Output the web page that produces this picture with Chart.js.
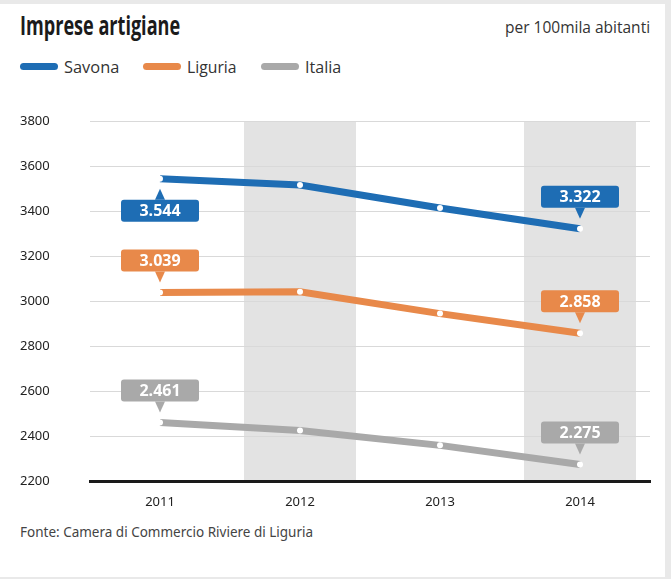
<!DOCTYPE html>
<html>
<head>
<meta charset="utf-8">
<title>Imprese artigiane</title>
<script src="https://cdn.jsdelivr.net/npm/chart.js"></script>
<style>
    body { margin: 0; background: #e9e9e9; }
    #wrap { position: relative; width: 671px; height: 579px; overflow: hidden; background: #e9e9e9; }
    #card { position: absolute; left: 0; top: 4px; width: 665px; height: 573px; background: #fff; }
    h1 { position: absolute; left: 20px; top: 2px; margin: 0; white-space: nowrap; transform-origin: left top; font: bold 27px "Open Sans", sans-serif; color: #1b1b1b; }
    .sub { position: absolute; left: 505px; top: 11px; white-space: nowrap; transform-origin: left top; font: 17px "Open Sans", sans-serif; color: #333; }
    #legend { position: absolute; left: 20px; top: 51px; display: flex; font: 17px "Open Sans", sans-serif; color: #333; }
    #legend span.item { display: flex; align-items: center; margin-right: 24px; }
    #legend span.swatch { display: inline-block; width: 38px; height: 7px; border-radius: 4px; margin-right: 6px; }
    #legend span.txt { display: inline-block; transform-origin: left center; }
    .src { position: absolute; left: 20px; top: 519px; font: 13.5px "Noto Sans", sans-serif; color: #444; }
    #chart-box { position: absolute; left: 0; top: 0; width: 671px; height: 579px; }
</style>
</head>
<body>
<div id="wrap">
    <div id="card">
        <h1 id="title">Imprese artigiane</h1>
        <div class="sub" id="sub">per 100mila abitanti</div>
        <div id="legend"></div>
        <div class="src">Fonte: Camera di Commercio Riviere di Liguria</div>
    </div>
    <div id="chart-box"><canvas id="artigianeChart"></canvas></div>
</div>
<script>
// Data
const years = ["2011", "2012", "2013", "2014"]
const savona = [3544, 3516, 3414, 3322]
const liguria = [3039, 3042, 2945, 2858]
const italia = [2461, 2426, 2360, 2275]
const shadedYears = ["2012", "2014"]

const colors = { savona: "#1e6db4", liguria: "#e8894a", italia: "#a9a9a9" }

// 3544 -> "3.544"
function fmt(v) {
    const s = String(Math.round(v))
    return s.length > 3 ? s.slice(0, -3) + "." + s.slice(-3) : s
}

// squeeze a text element to a given width (the original uses a condensed face)
function fitWidth(el, w) {
    el.style.transform = `scaleX(${w / el.offsetWidth})`
}

// gray columns behind some years
const bandsPlugin = {
    id: "bands",
    beforeDraw(chart) {
        const { ctx, chartArea, scales } = chart
        const x = scales.x
        const step = x.getPixelForValue(1) - x.getPixelForValue(0)
        ctx.save()
        ctx.fillStyle = "#e3e3e3"
        shadedYears.forEach((yr) => {
            const cx = x.getPixelForValue(years.indexOf(yr))
            ctx.fillRect(cx - step * 0.4, chartArea.top, step * 0.8, chartArea.bottom - chartArea.top)
        })
        ctx.restore()
    },
}

// value boxes on first and last point
const calloutPlugin = {
    id: "callouts",
    afterDatasetsDraw(chart, args, opts) {
        const { ctx } = chart
        ctx.save()
        ctx.font = "bold 16px 'Open Sans', sans-serif"
        ctx.textAlign = "center"
        ctx.textBaseline = "middle"
        chart.data.datasets.forEach((ds, i) => {
            const meta = chart.getDatasetMeta(i)
            const sides = opts.sides[i]
            ;[0, ds.data.length - 1].forEach((idx, k) => {
                const pt = meta.data[idx]
                const below = sides[k] === "below"
                const w = 78, h = 22
                const boxTop = below ? pt.y + 21 : pt.y - 21 - h
                const tipY = below ? pt.y + 10 : pt.y - 10
                const baseY = below ? boxTop : boxTop + h
                ctx.fillStyle = ds.borderColor
                ctx.beginPath()
                ctx.roundRect(pt.x - w / 2, boxTop, w, h, 3)
                ctx.fill()
                ctx.beginPath()
                ctx.moveTo(pt.x - 5, baseY)
                ctx.lineTo(pt.x, tipY)
                ctx.lineTo(pt.x + 5, baseY)
                ctx.closePath()
                ctx.fill()
                ctx.fillStyle = "#fff"
                ctx.fillText(fmt(ds.data[idx]), pt.x, boxTop + h / 2 + 1)
            })
        })
        ctx.restore()
    },
}

function makeSeries(label, data, color) {
    return {
        label: label,
        data: data,
        borderColor: color,
        backgroundColor: color,
        borderWidth: 7,
        tension: 0,
        pointRadius: 3,
        pointBorderWidth: 0,
        pointBackgroundColor: "#fff",
        pointHoverRadius: 3,
    }
}

const chart = new Chart(document.getElementById("artigianeChart"), {
    type: "line",
    data: {
        labels: years,
        datasets: [
            makeSeries("Savona", savona, colors.savona),
            makeSeries("Liguria", liguria, colors.liguria),
            makeSeries("Italia", italia, colors.italia),
        ],
    },
    options: {
        responsive: true,
        maintainAspectRatio: false,
        animation: false,
        layout: { padding: { left: 20, right: 21, top: 121, bottom: 56 } },
        plugins: {
            legend: { display: false },
            tooltip: { enabled: false },
            callouts: { sides: [["below", "above"], ["above", "above"], ["above", "above"]] },
        },
        scales: {
            x: {
                offset: true,
                grid: { display: false, drawTicks: false },
                border: { display: true, color: "#1a1a1a", width: 3 },
                ticks: { padding: 13, color: "#222", font: { family: "'Noto Sans', sans-serif", size: 13 } },
            },
            y: {
                min: 2200,
                max: 3800,
                ticks: {
                    stepSize: 200,
                    crossAlign: "far",
                    color: "#222",
                    font: { family: "'Noto Sans', sans-serif", size: 13 },
                    callback: (v) => String(v),
                },
                grid: { color: "#d9d9d9", drawTicks: false },
                border: { display: false },
                afterFit(scale) {
                    scale.width = 70
                },
            },
        },
    },
    plugins: [bandsPlugin, calloutPlugin],
})

// HTML legend from the datasets
const legendEl = document.getElementById("legend")
const legendTextWidths = [55, 50, 36]
chart.data.datasets.forEach((ds, i) => {
    const item = document.createElement("span")
    item.className = "item"
    item.innerHTML = `<span class="swatch" style="background:${ds.borderColor}"></span><span class="txt">${ds.label}</span>`
    legendEl.appendChild(item)
    const txt = item.querySelector(".txt")
    const natural = txt.offsetWidth
    fitWidth(txt, legendTextWidths[i])
    txt.style.marginRight = (legendTextWidths[i] - natural) + "px"
})

fitWidth(document.getElementById("title"), 160)
fitWidth(document.getElementById("sub"), 145)
</script>
</body>
</html>
